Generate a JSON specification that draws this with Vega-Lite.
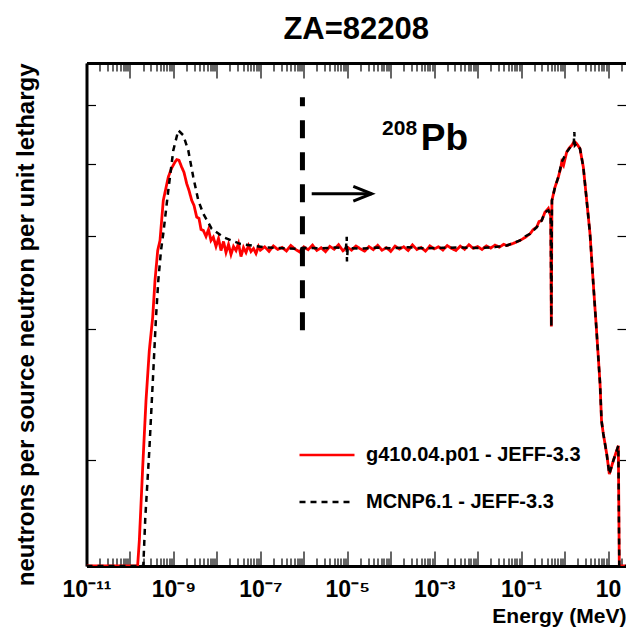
{
 "$schema": "https://vega.github.io/schema/vega-lite/v6.json",
 "width": 539.5,
 "height": 503,
 "autosize": "none",
 "padding": {"left": 86.5, "top": 63, "right": 0, "bottom": 61},
 "background": "white",
 "config": {"font": "Liberation Sans", "view": {"stroke": null}},
 "title": {"text": "ZA=82208", "fontSize": 31, "fontWeight": "bold", "font": "Liberation Sans", "color": "black", "baseline": "alphabetic", "offset": -8, "anchor": "middle", "frame": "group"},
 "datasets": {
  "curves": [
   {"series":"g410.04.p01 - JEFF-3.3","energy":1e-11,"flux":0.1439},
   {"series":"g410.04.p01 - JEFF-3.3","energy":1.5e-10,"flux":0.1439},
   {"series":"g410.04.p01 - JEFF-3.3","energy":1.641e-10,"flux":0.1555},
   {"series":"g410.04.p01 - JEFF-3.3","energy":1.963e-10,"flux":0.1953},
   {"series":"g410.04.p01 - JEFF-3.3","energy":2.339e-10,"flux":0.2402},
   {"series":"g410.04.p01 - JEFF-3.3","energy":2.786e-10,"flux":0.2805},
   {"series":"g410.04.p01 - JEFF-3.3","energy":3.334e-10,"flux":0.3110},
   {"series":"g410.04.p01 - JEFF-3.3","energy":3.767e-10,"flux":0.3485},
   {"series":"g410.04.p01 - JEFF-3.3","energy":4.345e-10,"flux":0.3825},
   {"series":"g410.04.p01 - JEFF-3.3","energy":4.909e-10,"flux":0.3946},
   {"series":"g410.04.p01 - JEFF-3.3","energy":5.848e-10,"flux":0.4468},
   {"series":"g410.04.p01 - JEFF-3.3","energy":7.621e-10,"flux":0.4803},
   {"series":"g410.04.p01 - JEFF-3.3","energy":9.03e-10,"flux":0.4933},
   {"series":"g410.04.p01 - JEFF-3.3","energy":1.086e-9,"flux":0.5032},
   {"series":"g410.04.p01 - JEFF-3.3","energy":1.189e-9,"flux":0.5069},
   {"series":"g410.04.p01 - JEFF-3.3","energy":1.343e-9,"flux":0.5059},
   {"series":"g410.04.p01 - JEFF-3.3","energy":1.549e-9,"flux":0.4954},
   {"series":"g410.04.p01 - JEFF-3.3","energy":1.751e-9,"flux":0.4874},
   {"series":"g410.04.p01 - JEFF-3.3","energy":2.023e-9,"flux":0.4706},
   {"series":"g410.04.p01 - JEFF-3.3","energy":2.283e-9,"flux":0.4609},
   {"series":"g410.04.p01 - JEFF-3.3","energy":2.636e-9,"flux":0.4468},
   {"series":"g410.04.p01 - JEFF-3.3","energy":2.978e-9,"flux":0.4399},
   {"series":"g410.04.p01 - JEFF-3.3","energy":3.436e-9,"flux":0.4242},
   {"series":"g410.04.p01 - JEFF-3.3","energy":3.878e-9,"flux":0.4225},
   {"series":"g410.04.p01 - JEFF-3.3","energy":4.311e-9,"flux":0.4084},
   {"series":"g410.04.p01 - JEFF-3.3","energy":4.875e-9,"flux":0.4071},
   {"series":"g410.04.p01 - JEFF-3.3","energy":5.619e-9,"flux":0.3996},
   {"series":"g410.04.p01 - JEFF-3.3","energy":6.414e-9,"flux":0.4083},
   {"series":"g410.04.p01 - JEFF-3.3","energy":7.321e-9,"flux":0.3946},
   {"series":"g410.04.p01 - JEFF-3.3","energy":8.279e-9,"flux":0.3987},
   {"series":"g410.04.p01 - JEFF-3.3","energy":9.546e-9,"flux":0.3874},
   {"series":"g410.04.p01 - JEFF-3.3","energy":1.090e-8,"flux":0.3971},
   {"series":"g410.04.p01 - JEFF-3.3","energy":1.244e-8,"flux":0.3825},
   {"series":"g410.04.p01 - JEFF-3.3","energy":1.420e-8,"flux":0.3934},
   {"series":"g410.04.p01 - JEFF-3.3","energy":1.621e-8,"flux":0.3802},
   {"series":"g410.04.p01 - JEFF-3.3","energy":1.851e-8,"flux":0.3898},
   {"series":"g410.04.p01 - JEFF-3.3","energy":2.113e-8,"flux":0.3778},
   {"series":"g410.04.p01 - JEFF-3.3","energy":2.412e-8,"flux":0.3874},
   {"series":"g410.04.p01 - JEFF-3.3","energy":2.754e-8,"flux":0.3825},
   {"series":"g410.04.p01 - JEFF-3.3","energy":3.144e-8,"flux":0.3910},
   {"series":"g410.04.p01 - JEFF-3.3","energy":3.589e-8,"flux":0.3754},
   {"series":"g410.04.p01 - JEFF-3.3","energy":4.097e-8,"flux":0.3862},
   {"series":"g410.04.p01 - JEFF-3.3","energy":4.677e-8,"flux":0.3802},
   {"series":"g410.04.p01 - JEFF-3.3","energy":5.339e-8,"flux":0.3885},
   {"series":"g410.04.p01 - JEFF-3.3","energy":6.095e-8,"flux":0.3813},
   {"series":"g410.04.p01 - JEFF-3.3","energy":6.958e-8,"flux":0.3849},
   {"series":"g410.04.p01 - JEFF-3.3","energy":7.943e-8,"flux":0.3790},
   {"series":"g410.04.p01 - JEFF-3.3","energy":9.070e-8,"flux":0.3874},
   {"series":"g410.04.p01 - JEFF-3.3","energy":1e-7,"flux":0.3830},
   {"series":"g410.04.p01 - JEFF-3.3","energy":1.259e-7,"flux":0.3870},
   {"series":"g410.04.p01 - JEFF-3.3","energy":1.585e-7,"flux":0.3815},
   {"series":"g410.04.p01 - JEFF-3.3","energy":1.995e-7,"flux":0.3880},
   {"series":"g410.04.p01 - JEFF-3.3","energy":2.512e-7,"flux":0.3838},
   {"series":"g410.04.p01 - JEFF-3.3","energy":3.162e-7,"flux":0.3862},
   {"series":"g410.04.p01 - JEFF-3.3","energy":3.981e-7,"flux":0.3820},
   {"series":"g410.04.p01 - JEFF-3.3","energy":5.012e-7,"flux":0.3885},
   {"series":"g410.04.p01 - JEFF-3.3","energy":6.310e-7,"flux":0.3842},
   {"series":"g410.04.p01 - JEFF-3.3","energy":7.943e-7,"flux":0.3810},
   {"series":"g410.04.p01 - JEFF-3.3","energy":1e-6,"flux":0.3868},
   {"series":"g410.04.p01 - JEFF-3.3","energy":1.259e-6,"flux":0.3835},
   {"series":"g410.04.p01 - JEFF-3.3","energy":1.585e-6,"flux":0.3890},
   {"series":"g410.04.p01 - JEFF-3.3","energy":1.995e-6,"flux":0.3826},
   {"series":"g410.04.p01 - JEFF-3.3","energy":2.512e-6,"flux":0.3858},
   {"series":"g410.04.p01 - JEFF-3.3","energy":3.162e-6,"flux":0.3812},
   {"series":"g410.04.p01 - JEFF-3.3","energy":3.981e-6,"flux":0.3875},
   {"series":"g410.04.p01 - JEFF-3.3","energy":5.012e-6,"flux":0.3840},
   {"series":"g410.04.p01 - JEFF-3.3","energy":6.310e-6,"flux":0.3895},
   {"series":"g410.04.p01 - JEFF-3.3","energy":7.943e-6,"flux":0.3822},
   {"series":"g410.04.p01 - JEFF-3.3","energy":1e-5,"flux":0.3866},
   {"series":"g410.04.p01 - JEFF-3.3","energy":1.259e-5,"flux":0.3830},
   {"series":"g410.04.p01 - JEFF-3.3","energy":1.585e-5,"flux":0.3880},
   {"series":"g410.04.p01 - JEFF-3.3","energy":1.995e-5,"flux":0.3845},
   {"series":"g410.04.p01 - JEFF-3.3","energy":2.512e-5,"flux":0.3818},
   {"series":"g410.04.p01 - JEFF-3.3","energy":3.162e-5,"flux":0.3872},
   {"series":"g410.04.p01 - JEFF-3.3","energy":3.981e-5,"flux":0.3836},
   {"series":"g410.04.p01 - JEFF-3.3","energy":5.012e-5,"flux":0.3888},
   {"series":"g410.04.p01 - JEFF-3.3","energy":6.310e-5,"flux":0.3828},
   {"series":"g410.04.p01 - JEFF-3.3","energy":7.943e-5,"flux":0.3860},
   {"series":"g410.04.p01 - JEFF-3.3","energy":1e-4,"flux":0.3815},
   {"series":"g410.04.p01 - JEFF-3.3","energy":1.259e-4,"flux":0.3878},
   {"series":"g410.04.p01 - JEFF-3.3","energy":1.585e-4,"flux":0.3842},
   {"series":"g410.04.p01 - JEFF-3.3","energy":1.995e-4,"flux":0.3870},
   {"series":"g410.04.p01 - JEFF-3.3","energy":2.512e-4,"flux":0.3825},
   {"series":"g410.04.p01 - JEFF-3.3","energy":3.162e-4,"flux":0.3892},
   {"series":"g410.04.p01 - JEFF-3.3","energy":3.981e-4,"flux":0.3838},
   {"series":"g410.04.p01 - JEFF-3.3","energy":5.012e-4,"flux":0.3862},
   {"series":"g410.04.p01 - JEFF-3.3","energy":6.310e-4,"flux":0.3818},
   {"series":"g410.04.p01 - JEFF-3.3","energy":7.943e-4,"flux":0.3880},
   {"series":"g410.04.p01 - JEFF-3.3","energy":1e-3,"flux":0.3845},
   {"series":"g410.04.p01 - JEFF-3.3","energy":1.259e-3,"flux":0.3870},
   {"series":"g410.04.p01 - JEFF-3.3","energy":1.585e-3,"flux":0.3830},
   {"series":"g410.04.p01 - JEFF-3.3","energy":1.995e-3,"flux":0.3885},
   {"series":"g410.04.p01 - JEFF-3.3","energy":2.512e-3,"flux":0.3850},
   {"series":"g410.04.p01 - JEFF-3.3","energy":3.162e-3,"flux":0.3825},
   {"series":"g410.04.p01 - JEFF-3.3","energy":3.981e-3,"flux":0.3878},
   {"series":"g410.04.p01 - JEFF-3.3","energy":5.012e-3,"flux":0.3840},
   {"series":"g410.04.p01 - JEFF-3.3","energy":6.310e-3,"flux":0.3895},
   {"series":"g410.04.p01 - JEFF-3.3","energy":7.943e-3,"flux":0.3850},
   {"series":"g410.04.p01 - JEFF-3.3","energy":1e-2,"flux":0.3872},
   {"series":"g410.04.p01 - JEFF-3.3","energy":1.259e-2,"flux":0.3838},
   {"series":"g410.04.p01 - JEFF-3.3","energy":1.585e-2,"flux":0.3880},
   {"series":"g410.04.p01 - JEFF-3.3","energy":1.995e-2,"flux":0.3855},
   {"series":"g410.04.p01 - JEFF-3.3","energy":2.512e-2,"flux":0.3890},
   {"series":"g410.04.p01 - JEFF-3.3","energy":3.162e-2,"flux":0.3865},
   {"series":"g410.04.p01 - JEFF-3.3","energy":3.981e-2,"flux":0.3900},
   {"series":"g410.04.p01 - JEFF-3.3","energy":0.04667,"flux":0.3885},
   {"series":"g410.04.p01 - JEFF-3.3","energy":0.06516,"flux":0.3910},
   {"series":"g410.04.p01 - JEFF-3.3","energy":0.0944,"flux":0.3946},
   {"series":"g410.04.p01 - JEFF-3.3","energy":0.1231,"flux":0.3983},
   {"series":"g410.04.p01 - JEFF-3.3","energy":0.1603,"flux":0.4029},
   {"series":"g410.04.p01 - JEFF-3.3","energy":0.1902,"flux":0.4083},
   {"series":"g410.04.p01 - JEFF-3.3","energy":0.2286,"flux":0.4113},
   {"series":"g410.04.p01 - JEFF-3.3","energy":0.2581,"flux":0.4184},
   {"series":"g410.04.p01 - JEFF-3.3","energy":0.2979,"flux":0.4199},
   {"series":"g410.04.p01 - JEFF-3.3","energy":0.3548,"flux":0.4309},
   {"series":"g410.04.p01 - JEFF-3.3","energy":0.4227,"flux":0.4359},
   {"series":"g410.04.p01 - JEFF-3.3","energy":0.4624,"flux":0.4287},
   {"series":"g410.04.p01 - JEFF-3.3","energy":0.4797,"flux":0.4253},
   {"series":"g410.04.p01 - JEFF-3.3","energy":0.4956,"flux":0.3022},
   {"series":"g410.04.p01 - JEFF-3.3","energy":0.5117,"flux":0.4468},
   {"series":"g410.04.p01 - JEFF-3.3","energy":0.6026,"flux":0.4656},
   {"series":"g410.04.p01 - JEFF-3.3","energy":0.7178,"flux":0.4803},
   {"series":"g410.04.p01 - JEFF-3.3","energy":0.8112,"flux":0.4933},
   {"series":"g410.04.p01 - JEFF-3.3","energy":0.8590,"flux":0.5032},
   {"series":"g410.04.p01 - JEFF-3.3","energy":0.9454,"flux":0.4980},
   {"series":"g410.04.p01 - JEFF-3.3","energy":1.119,"flux":0.5190},
   {"series":"g410.04.p01 - JEFF-3.3","energy":1.266,"flux":0.5251},
   {"series":"g410.04.p01 - JEFF-3.3","energy":1.459,"flux":0.5299},
   {"series":"g410.04.p01 - JEFF-3.3","energy":1.675,"flux":0.5365},
   {"series":"g410.04.p01 - JEFF-3.3","energy":1.901,"flux":0.5327},
   {"series":"g410.04.p01 - JEFF-3.3","energy":2.265,"flux":0.5245},
   {"series":"g410.04.p01 - JEFF-3.3","energy":2.698,"flux":0.4954},
   {"series":"g410.04.p01 - JEFF-3.3","energy":3.228,"flux":0.4468},
   {"series":"g410.04.p01 - JEFF-3.3","energy":3.846,"flux":0.4029},
   {"series":"g410.04.p01 - JEFF-3.3","energy":4.581,"flux":0.3453},
   {"series":"g410.04.p01 - JEFF-3.3","energy":5.495,"flux":0.2957},
   {"series":"g410.04.p01 - JEFF-3.3","energy":6.546,"flux":0.2532},
   {"series":"g410.04.p01 - JEFF-3.3","energy":7.079,"flux":0.2257},
   {"series":"g410.04.p01 - JEFF-3.3","energy":7.78,"flux":0.2168},
   {"series":"g410.04.p01 - JEFF-3.3","energy":9.333,"flux":0.2036},
   {"series":"g410.04.p01 - JEFF-3.3","energy":10.72,"flux":0.1913},
   {"series":"g410.04.p01 - JEFF-3.3","energy":13.21,"flux":0.1994},
   {"series":"g410.04.p01 - JEFF-3.3","energy":17.26,"flux":0.2089},
   {"series":"g410.04.p01 - JEFF-3.3","energy":18.16,"flux":0.1439},
   {"series":"g410.04.p01 - JEFF-3.3","energy":26,"flux":0.1439},
   {"series":"MCNP6.1 - JEFF-3.3","energy":1e-11,"flux":0.1439},
   {"series":"MCNP6.1 - JEFF-3.3","energy":2.028e-10,"flux":0.1439},
   {"series":"MCNP6.1 - JEFF-3.3","energy":2.254e-10,"flux":0.1672},
   {"series":"MCNP6.1 - JEFF-3.3","energy":2.786e-10,"flux":0.2057},
   {"series":"MCNP6.1 - JEFF-3.3","energy":3.334e-10,"flux":0.2532},
   {"series":"MCNP6.1 - JEFF-3.3","energy":3.972e-10,"flux":0.3110},
   {"series":"MCNP6.1 - JEFF-3.3","energy":4.487e-10,"flux":0.3485},
   {"series":"MCNP6.1 - JEFF-3.3","energy":5.176e-10,"flux":0.3825},
   {"series":"MCNP6.1 - JEFF-3.3","energy":5.848e-10,"flux":0.4033},
   {"series":"MCNP6.1 - JEFF-3.3","energy":7.621e-10,"flux":0.4609},
   {"series":"MCNP6.1 - JEFF-3.3","energy":9.93e-10,"flux":0.5217},
   {"series":"MCNP6.1 - JEFF-3.3","energy":1.294e-9,"flux":0.5552},
   {"series":"MCNP6.1 - JEFF-3.3","energy":1.687e-9,"flux":0.5467},
   {"series":"MCNP6.1 - JEFF-3.3","energy":2.198e-9,"flux":0.5217},
   {"series":"MCNP6.1 - JEFF-3.3","energy":2.864e-9,"flux":0.4803},
   {"series":"MCNP6.1 - JEFF-3.3","energy":3.733e-9,"flux":0.4468},
   {"series":"MCNP6.1 - JEFF-3.3","energy":4.875e-9,"flux":0.4287},
   {"series":"MCNP6.1 - JEFF-3.3","energy":7.603e-9,"flux":0.4092},
   {"series":"MCNP6.1 - JEFF-3.3","energy":1.406e-8,"flux":0.3987},
   {"series":"MCNP6.1 - JEFF-3.3","energy":3.404e-8,"flux":0.3906},
   {"series":"MCNP6.1 - JEFF-3.3","energy":1.169e-7,"flux":0.3865},
   {"series":"MCNP6.1 - JEFF-3.3","energy":6.871e-7,"flux":0.3846},
   {"series":"MCNP6.1 - JEFF-3.3","energy":1e-6,"flux":0.3858},
   {"series":"MCNP6.1 - JEFF-3.3","energy":2.512e-6,"flux":0.3850},
   {"series":"MCNP6.1 - JEFF-3.3","energy":5.012e-6,"flux":0.3862},
   {"series":"MCNP6.1 - JEFF-3.3","energy":9.333e-6,"flux":0.3855},
   {"series":"MCNP6.1 - JEFF-3.3","energy":9.727e-6,"flux":0.3992},
   {"series":"MCNP6.1 - JEFF-3.3","energy":9.84e-6,"flux":0.3697},
   {"series":"MCNP6.1 - JEFF-3.3","energy":1.023e-5,"flux":0.3855},
   {"series":"MCNP6.1 - JEFF-3.3","energy":2e-5,"flux":0.3848},
   {"series":"MCNP6.1 - JEFF-3.3","energy":5.012e-5,"flux":0.3860},
   {"series":"MCNP6.1 - JEFF-3.3","energy":1e-4,"flux":0.3852},
   {"series":"MCNP6.1 - JEFF-3.3","energy":2.512e-4,"flux":0.3864},
   {"series":"MCNP6.1 - JEFF-3.3","energy":6.31e-4,"flux":0.3850},
   {"series":"MCNP6.1 - JEFF-3.3","energy":1.585e-3,"flux":0.3858},
   {"series":"MCNP6.1 - JEFF-3.3","energy":3.981e-3,"flux":0.3862},
   {"series":"MCNP6.1 - JEFF-3.3","energy":1e-2,"flux":0.3855},
   {"series":"MCNP6.1 - JEFF-3.3","energy":2.512e-2,"flux":0.3866},
   {"series":"MCNP6.1 - JEFF-3.3","energy":0.04667,"flux":0.3885},
   {"series":"MCNP6.1 - JEFF-3.3","energy":0.0944,"flux":0.3946},
   {"series":"MCNP6.1 - JEFF-3.3","energy":0.1231,"flux":0.3996},
   {"series":"MCNP6.1 - JEFF-3.3","energy":0.1603,"flux":0.4029},
   {"series":"MCNP6.1 - JEFF-3.3","energy":0.2286,"flux":0.4113},
   {"series":"MCNP6.1 - JEFF-3.3","energy":0.2979,"flux":0.4199},
   {"series":"MCNP6.1 - JEFF-3.3","energy":0.3548,"flux":0.4309},
   {"series":"MCNP6.1 - JEFF-3.3","energy":0.4227,"flux":0.4332},
   {"series":"MCNP6.1 - JEFF-3.3","energy":0.4624,"flux":0.4287},
   {"series":"MCNP6.1 - JEFF-3.3","energy":0.4797,"flux":0.4253},
   {"series":"MCNP6.1 - JEFF-3.3","energy":0.4956,"flux":0.3022},
   {"series":"MCNP6.1 - JEFF-3.3","energy":0.5117,"flux":0.4468},
   {"series":"MCNP6.1 - JEFF-3.3","energy":0.6026,"flux":0.4656},
   {"series":"MCNP6.1 - JEFF-3.3","energy":0.7178,"flux":0.4803},
   {"series":"MCNP6.1 - JEFF-3.3","energy":0.859,"flux":0.5032},
   {"series":"MCNP6.1 - JEFF-3.3","energy":1.119,"flux":0.5190},
   {"series":"MCNP6.1 - JEFF-3.3","energy":1.459,"flux":0.5299},
   {"series":"MCNP6.1 - JEFF-3.3","energy":1.622,"flux":0.5299},
   {"series":"MCNP6.1 - JEFF-3.3","energy":1.675,"flux":0.5523},
   {"series":"MCNP6.1 - JEFF-3.3","energy":1.729,"flux":0.5299},
   {"series":"MCNP6.1 - JEFF-3.3","energy":1.901,"flux":0.5327},
   {"series":"MCNP6.1 - JEFF-3.3","energy":2.265,"flux":0.5245},
   {"series":"MCNP6.1 - JEFF-3.3","energy":2.698,"flux":0.4954},
   {"series":"MCNP6.1 - JEFF-3.3","energy":3.228,"flux":0.4468},
   {"series":"MCNP6.1 - JEFF-3.3","energy":3.846,"flux":0.4029},
   {"series":"MCNP6.1 - JEFF-3.3","energy":4.581,"flux":0.3453},
   {"series":"MCNP6.1 - JEFF-3.3","energy":5.495,"flux":0.2957},
   {"series":"MCNP6.1 - JEFF-3.3","energy":6.546,"flux":0.2532},
   {"series":"MCNP6.1 - JEFF-3.3","energy":7.079,"flux":0.2257},
   {"series":"MCNP6.1 - JEFF-3.3","energy":7.78,"flux":0.2168},
   {"series":"MCNP6.1 - JEFF-3.3","energy":9.333,"flux":0.2036},
   {"series":"MCNP6.1 - JEFF-3.3","energy":10.72,"flux":0.1913},
   {"series":"MCNP6.1 - JEFF-3.3","energy":13.21,"flux":0.1994},
   {"series":"MCNP6.1 - JEFF-3.3","energy":17.26,"flux":0.2089},
   {"series":"MCNP6.1 - JEFF-3.3","energy":18.16,"flux":0.1439},
   {"series":"MCNP6.1 - JEFF-3.3","energy":26,"flux":0.1439}
  ],
  "marker": [{"energy": 9.3e-7, "top": 0.615, "bottom": 0.2974}],
  "arrow": [
   {"part":"shaft","ord":1,"energy":1.52e-6,"flux":0.4561},
   {"part":"shaft","ord":2,"energy":3.649e-5,"flux":0.4561},
   {"part":"head","ord":1,"energy":1.377e-5,"flux":0.4667},
   {"part":"head","ord":2,"energy":3.649e-5,"flux":0.4561},
   {"part":"head","ord":3,"energy":1.377e-5,"flux":0.4458}
  ],
  "mass": [{"energy": 6.32e-5, "flux": 0.5467, "label": "208"}],
  "element": [{"energy": 4.9e-4, "flux": 0.5217, "label": "Pb"}]
 },
 "layer": [
  {
   "data": {"name": "curves"},
   "transform": [{"filter": "datum.series === 'g410.04.p01 - JEFF-3.3'"}],
   "mark": {"type": "line", "strokeWidth": 2.8, "clip": true},
   "encoding": {
    "x": {"field": "energy", "type": "quantitative", "scale": {"type": "log", "domain": [1e-11, 25.9], "nice": false},
     "axis": {"orient": "bottom", "grid": false,
      "values": [1e-11,2e-11,3e-11,4e-11,5e-11,6e-11,7e-11,8e-11,9e-11,1e-10,2e-10,3e-10,4e-10,5e-10,6e-10,7e-10,8e-10,9e-10,1e-9,2e-9,3e-9,4e-9,5e-9,6e-9,7e-9,8e-9,9e-9,1e-8,2e-8,3e-8,4e-8,5e-8,6e-8,7e-8,8e-8,9e-8,1e-7,2e-7,3e-7,4e-7,5e-7,6e-7,7e-7,8e-7,9e-7,1e-6,2e-6,3e-6,4e-6,5e-6,6e-6,7e-6,8e-6,9e-6,1e-5,2e-5,3e-5,4e-5,5e-5,6e-5,7e-5,8e-5,9e-5,1e-4,2e-4,3e-4,4e-4,5e-4,6e-4,7e-4,8e-4,9e-4,1e-3,2e-3,3e-3,4e-3,5e-3,6e-3,7e-3,8e-3,9e-3,1e-2,2e-2,3e-2,4e-2,5e-2,6e-2,7e-2,8e-2,9e-2,0.1,0.2,0.3,0.4,0.5,0.6,0.7,0.8,0.9,1,2,3,4,5,6,7,8,9,10,20],
      "tickSize": {"condition": {"test": "abs(log(datum.value)/LN10 - round(log(datum.value)/LN10)) < 0.01", "value": -15}, "value": -8},
      "tickColor": "black", "tickWidth": 1.2,
      "domainColor": "black", "domainWidth": 3,
      "labelExpr": "abs(log(datum.value)/LN10 - round(log(datum.value)/LN10)) < 0.01 ? ['10⁻¹¹','','10⁻⁹','','10⁻⁷','','10⁻⁵','','10⁻³','','10⁻¹','','10',''][round(log(datum.value)/LN10)+11] : ''",
      "labelFont": "Liberation Sans", "labelFontSize": 23, "labelFontWeight": "bold", "labelColor": "black",
      "labelBaseline": "alphabetic", "labelPadding": 45, "labelOverlap": false, "labelFlush": false, "labelBound": false,
      "title": "Energy (MeV)", "titleFont": "Liberation Sans", "titleFontSize": 21, "titleFontWeight": "bold", "titleColor": "black",
      "titleAnchor": "end", "titleAlign": "right", "titleBaseline": "alphabetic", "titleX": 539.5, "titleY": 56}},
    "y": {"field": "flux", "type": "quantitative", "scale": {"type": "log", "domain": [0.1439, 0.684], "nice": false},
     "axis": {"orient": "left", "grid": false, "values": [0.2, 0.3, 0.4, 0.5, 0.6], "tickSize": -9, "tickColor": "black", "tickWidth": 1.2,
      "labels": false, "domainColor": "black", "domainWidth": 3,
      "title": "neutrons per source neutron per unit lethargy", "titleFont": "Liberation Sans", "titleFontSize": 24, "titleFontWeight": "bold", "titleColor": "black",
      "titleAngle": 270, "titleAlign": "right", "titleBaseline": "alphabetic", "titleX": -53.5, "titleY": 0}},
    "color": {"field": "series", "type": "nominal", "scale": {"domain": ["g410.04.p01 - JEFF-3.3", "MCNP6.1 - JEFF-3.3"], "range": ["#ff0000", "#000000"]},
     "legend": {"title": null, "orient": "none", "legendX": 211.5, "legendY": 363, "symbolType": "stroke", "symbolSize": 3025, "symbolStrokeWidth": 2.5, "labelFont": "Liberation Sans", "labelFontSize": 20, "labelFontWeight": "bold", "labelColor": "black", "labelOffset": 10, "rowPadding": 8, "padding": 0, "labelLimit": 400}},
    "strokeDash": {"field": "series", "type": "nominal", "scale": {"domain": ["g410.04.p01 - JEFF-3.3", "MCNP6.1 - JEFF-3.3"], "range": [[1, 0], [6, 5]]},
     "legend": {"title": null, "orient": "none", "legendX": 211.5, "legendY": 363, "symbolType": "stroke", "symbolSize": 3025, "symbolStrokeWidth": 2.5, "labelFont": "Liberation Sans", "labelFontSize": 20, "labelFontWeight": "bold", "labelColor": "black", "labelOffset": 10, "rowPadding": 8, "padding": 0, "labelLimit": 400}}
   }
  },
  {
   "data": {"name": "curves"},
   "transform": [{"filter": "datum.series === 'MCNP6.1 - JEFF-3.3'"}],
   "mark": {"type": "line", "strokeWidth": 2.5, "clip": true},
   "encoding": {
    "x": {"field": "energy", "type": "quantitative", "scale": {"type": "log", "domain": [1e-11, 25.9], "nice": false}, "axis": null},
    "y": {"field": "flux", "type": "quantitative", "scale": {"type": "log", "domain": [0.1439, 0.684], "nice": false}, "axis": null},
    "color": {"field": "series", "type": "nominal", "scale": {"domain": ["g410.04.p01 - JEFF-3.3", "MCNP6.1 - JEFF-3.3"], "range": ["#ff0000", "#000000"]},
     "legend": {"title": null, "orient": "none", "legendX": 211.5, "legendY": 363, "symbolType": "stroke", "symbolSize": 3025, "symbolStrokeWidth": 2.5, "labelFont": "Liberation Sans", "labelFontSize": 20, "labelFontWeight": "bold", "labelColor": "black", "labelOffset": 10, "rowPadding": 8, "padding": 0, "labelLimit": 400}},
    "strokeDash": {"field": "series", "type": "nominal", "scale": {"domain": ["g410.04.p01 - JEFF-3.3", "MCNP6.1 - JEFF-3.3"], "range": [[1, 0], [6, 5]]},
     "legend": {"title": null, "orient": "none", "legendX": 211.5, "legendY": 363, "symbolType": "stroke", "symbolSize": 3025, "symbolStrokeWidth": 2.5, "labelFont": "Liberation Sans", "labelFontSize": 20, "labelFontWeight": "bold", "labelColor": "black", "labelOffset": 10, "rowPadding": 8, "padding": 0, "labelLimit": 400}}
   }
  },
  {
   "data": {"name": "marker"},
   "mark": {"type": "rule", "color": "black", "strokeWidth": 5, "strokeDash": [18, 14], "strokeDashOffset": 9},
   "encoding": {
    "x": {"field": "energy", "type": "quantitative", "scale": {"type": "log", "domain": [1e-11, 25.9], "nice": false}, "axis": null},
    "y": {"field": "top", "type": "quantitative", "scale": {"type": "log", "domain": [0.1439, 0.684], "nice": false}, "axis": null},
    "y2": {"field": "bottom"}
   }
  },
  {
   "data": {"name": "arrow"},
   "mark": {"type": "line", "color": "black", "strokeWidth": 3},
   "encoding": {
    "x": {"field": "energy", "type": "quantitative", "scale": {"type": "log", "domain": [1e-11, 25.9], "nice": false}, "axis": null},
    "y": {"field": "flux", "type": "quantitative", "scale": {"type": "log", "domain": [0.1439, 0.684], "nice": false}, "axis": null},
    "detail": {"field": "part", "type": "nominal"},
    "order": {"field": "ord", "type": "quantitative"}
   }
  },
  {
   "data": {"name": "mass"},
   "mark": {"type": "text", "align": "left", "baseline": "alphabetic", "font": "Liberation Sans", "fontSize": 21, "fontWeight": "bold", "color": "black"},
   "encoding": {
    "x": {"field": "energy", "type": "quantitative", "scale": {"type": "log", "domain": [1e-11, 25.9], "nice": false}, "axis": null},
    "y": {"field": "flux", "type": "quantitative", "scale": {"type": "log", "domain": [0.1439, 0.684], "nice": false}, "axis": null},
    "text": {"field": "label"}
   }
  },
  {
   "data": {"name": "element"},
   "mark": {"type": "text", "align": "left", "baseline": "alphabetic", "font": "Liberation Sans", "fontSize": 37, "fontWeight": "bold", "color": "black"},
   "encoding": {
    "x": {"field": "energy", "type": "quantitative", "scale": {"type": "log", "domain": [1e-11, 25.9], "nice": false}, "axis": null},
    "y": {"field": "flux", "type": "quantitative", "scale": {"type": "log", "domain": [0.1439, 0.684], "nice": false}, "axis": null},
    "text": {"field": "label"}
   }
  },
  {
   "data": {"name": "marker"},
   "mark": {"type": "point", "opacity": 0},
   "encoding": {
    "x": {"field": "energy", "type": "quantitative", "scale": {"type": "log", "domain": [1e-11, 25.9], "nice": false},
     "axis": {"orient": "top", "grid": false, "labels": false, "title": null,
      "values": [1e-11,2e-11,3e-11,4e-11,5e-11,6e-11,7e-11,8e-11,9e-11,1e-10,2e-10,3e-10,4e-10,5e-10,6e-10,7e-10,8e-10,9e-10,1e-9,2e-9,3e-9,4e-9,5e-9,6e-9,7e-9,8e-9,9e-9,1e-8,2e-8,3e-8,4e-8,5e-8,6e-8,7e-8,8e-8,9e-8,1e-7,2e-7,3e-7,4e-7,5e-7,6e-7,7e-7,8e-7,9e-7,1e-6,2e-6,3e-6,4e-6,5e-6,6e-6,7e-6,8e-6,9e-6,1e-5,2e-5,3e-5,4e-5,5e-5,6e-5,7e-5,8e-5,9e-5,1e-4,2e-4,3e-4,4e-4,5e-4,6e-4,7e-4,8e-4,9e-4,1e-3,2e-3,3e-3,4e-3,5e-3,6e-3,7e-3,8e-3,9e-3,1e-2,2e-2,3e-2,4e-2,5e-2,6e-2,7e-2,8e-2,9e-2,0.1,0.2,0.3,0.4,0.5,0.6,0.7,0.8,0.9,1,2,3,4,5,6,7,8,9,10,20],
      "tickSize": {"condition": {"test": "abs(log(datum.value)/LN10 - round(log(datum.value)/LN10)) < 0.01", "value": -15}, "value": -8},
      "tickColor": "black", "tickWidth": 1.2, "domainColor": "black", "domainWidth": 3}},
    "y": {"field": "top", "type": "quantitative", "scale": {"type": "log", "domain": [0.1439, 0.684], "nice": false},
     "axis": {"orient": "right", "grid": false, "labels": false, "title": null, "values": [0.2, 0.3, 0.4, 0.5, 0.6], "tickSize": -9, "tickColor": "black", "tickWidth": 1.2, "domain": false}}
   }
  }
 ],
 "resolve": {"axis": {"x": "independent", "y": "independent"}}
}
